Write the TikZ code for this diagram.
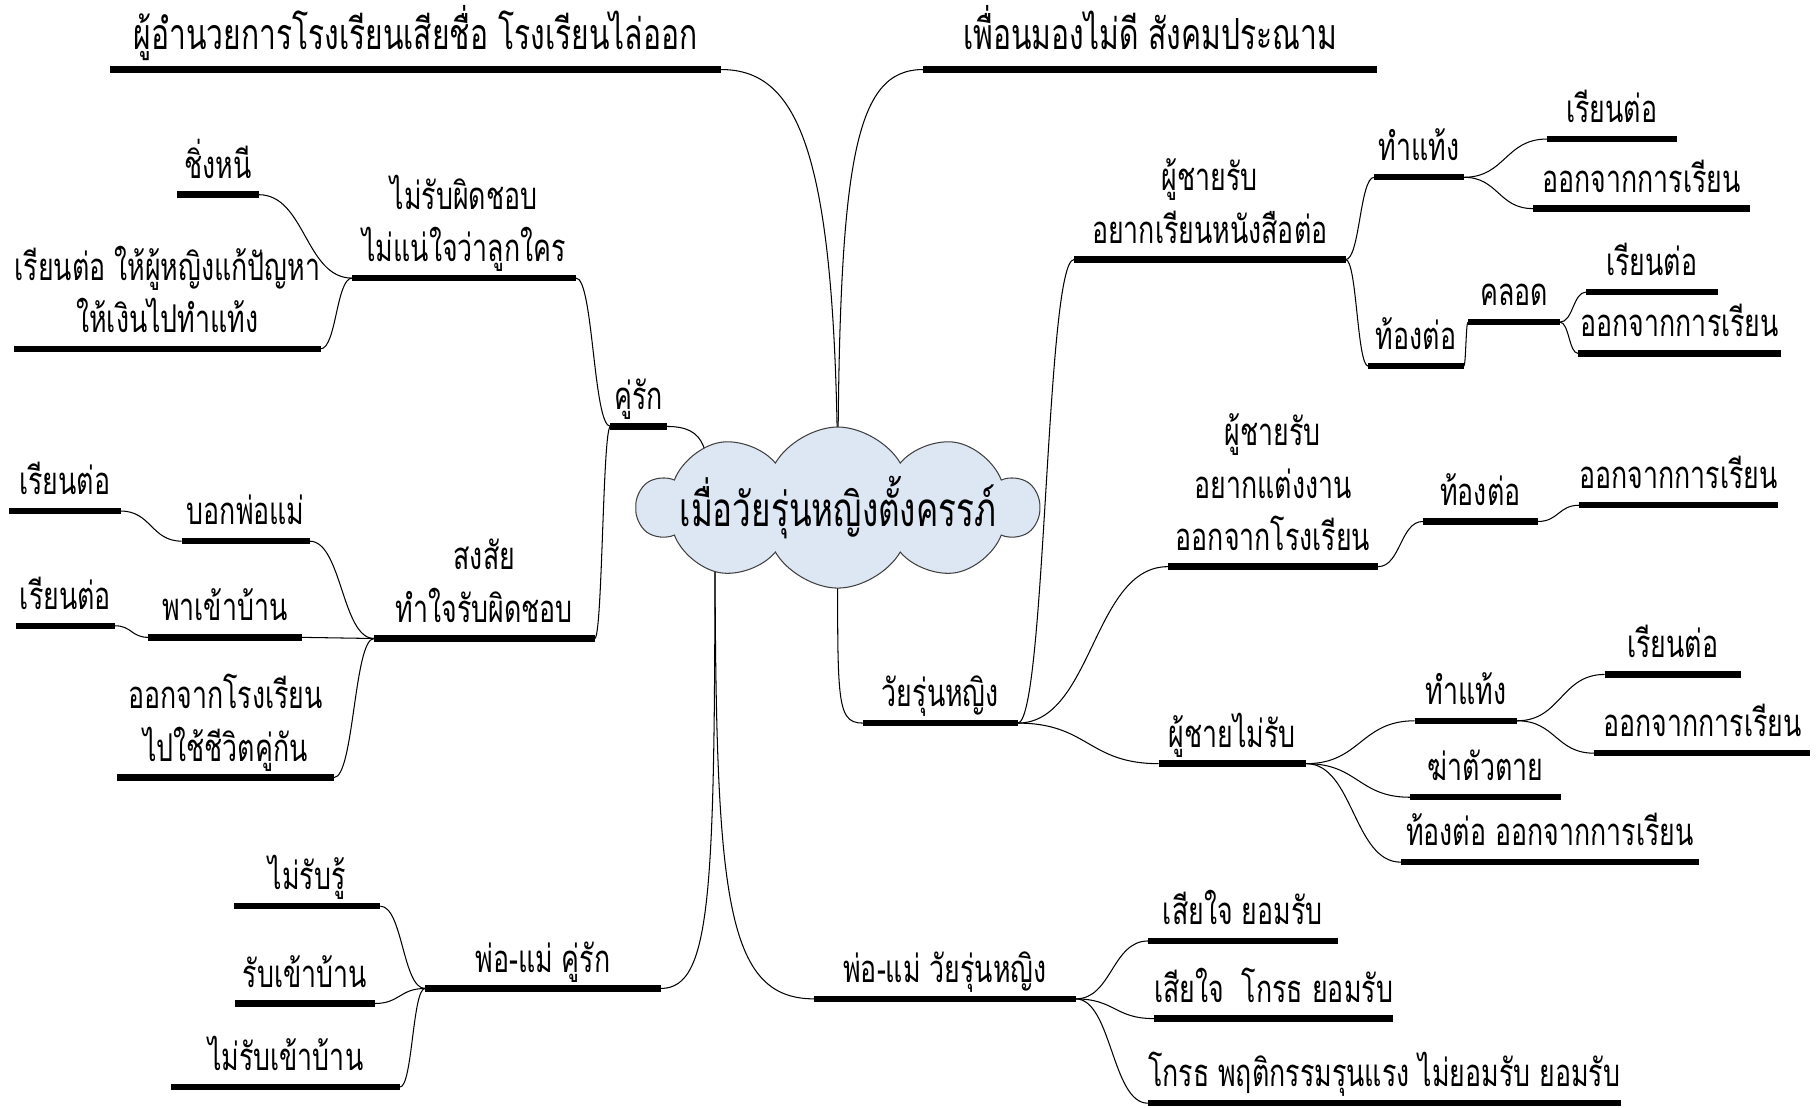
\documentclass[tikz,border=0pt]{standalone}
\usepackage{fontspec}
\newfontfamily\thaifont[Script=Thai,FakeStretch=0.7]{Loma}
\usetikzlibrary{shapes.symbols,calc,backgrounds}
\definecolor{cloudblue}{RGB}{221,230,243}

\begin{document}
\begin{tikzpicture}[x=1pt,y=-1pt,font=\thaifont\fontsize{33}{45}\selectfont]
    \useasboundingbox (0,0) rectangle (1568,956);
    \tikzstyle{bar} = [line width=5.5pt, black]
    \tikzstyle{topic} = [anchor=south, inner xsep=0pt, inner ysep=14pt, text depth=0pt, align=center,
        append after command={\pgfextra{\let\barnode\tikzlastnode \draw[bar] (\barnode.south west) -- (\barnode.south east);}}]
    \tikzstyle{headline} = [topic, inner ysep=17pt, font=\thaifont\fontsize{37}{45}\selectfont]
    \tikzstyle{link} = [line width=0.9pt, to path={.. controls ($(\tikztostart)!.5!(\tikztostart-|\tikztotarget)$) and ($(\tikztotarget)!.5!(\tikztotarget-|\tikztostart)$) .. (\tikztotarget)}]
    \tikzstyle{idea} = [cloud, cloud puffs=10, cloud puff arc=120, aspect=2.5, minimum width=346pt, minimum height=139pt,
        draw=black!75, line width=0.9pt, fill=cloudblue]

    \node (root) [idea, label={center:{\fontsize{41}{50}\selectfont เมื่อวัยรุ่นหญิงตั้งครรภ์}}] at (723,438) {};
    \coordinate (rootdown) at ([xshift=-106pt]root.center);
    \coordinate (rootkr) at ([xshift=-111pt]root.center);

    % top
    \node (t1) [headline, minimum width=527pt] at (358.5,60) {ผู้อำนวยการโรงเรียนเสียชื่อ โรงเรียนไล่ออก};
    \node (t2) [headline, minimum width=391pt] at (992.5,60) {เพื่อนมองไม่ดี สังคมประณาม};

    % left: couple
    \node (kr) [topic, minimum width=48pt] at (551,368) {คู่รัก};
    \node (kr1) [topic, minimum width=193pt] at (400.5,240) {ไม่รับผิดชอบ\\ไม่แน่ใจว่าลูกใคร};
    \node (kr11) [topic, minimum width=70pt] at (188,168) {ชิ่งหนี};
    \node (kr12) [topic, minimum width=257pt] at (144.5,301) {เรียนต่อ ให้ผู้หญิงแก้ปัญหา\\ให้เงินไปทำแท้ง};
    \node (kr2) [topic, minimum width=190pt] at (418,551) {สงสัย\\ทำใจรับผิดชอบ};
    \node (kr21) [topic, minimum width=110pt] at (212,467) {บอกพ่อแม่};
    \node (kr211) [topic, minimum width=96pt] at (56,441) {เรียนต่อ};
    \node (kr22) [topic, minimum width=132pt] at (194,550) {พาเข้าบ้าน};
    \node (kr221) [topic, minimum width=85pt] at (56.5,540) {เรียนต่อ};
    \node (kr23) [topic, minimum width=187pt] at (194.5,671) {ออกจากโรงเรียน\\ไปใช้ชีวิตคู่กัน};

    % bottom: parents
    \node (pk) [topic, minimum width=203pt] at (468.5,853) {พ่อ-แม่ คู่รัก};
    \node (pk1) [topic, minimum width=126pt] at (265,782) {ไม่รับรู้};
    \node (pk2) [topic, minimum width=120pt] at (263,866) {รับเข้าบ้าน};
    \node (pk3) [topic, minimum width=197pt] at (246.5,938) {ไม่รับเข้าบ้าน};
    \node (pw) [topic, minimum width=225pt] at (815.5,862) {พ่อ-แม่ วัยรุ่นหญิง};
    \node (pw1) [topic, minimum width=163pt] at (1072.5,812) {เสียใจ ยอมรับ};
    \node (pw2) [topic, minimum width=192pt] at (1099,879) {เสียใจ~ โกรธ ยอมรับ};
    \node (pw3) [topic, minimum width=399pt] at (1194.5,952) {โกรธ พฤติกรรมรุนแรง ไม่ยอมรับ ยอมรับ};

    % right: girl
    \node (w) [topic, minimum width=133pt] at (811.5,624) {วัยรุ่นหญิง};
    \node (w1) [topic, minimum width=234pt] at (1044,224) {ผู้ชายรับ\\อยากเรียนหนังสือต่อ};
    \node (w11) [topic, minimum width=77pt] at (1224.5,153) {ทำแท้ง};
    \node (w111) [topic, minimum width=112pt] at (1391,120) {เรียนต่อ};
    \node (w112) [topic, minimum width=187pt] at (1416.5,180) {ออกจากการเรียน};
    \node (w12) [topic, minimum width=82pt] at (1222,316) {ท้องต่อ};
    \node (w121) [topic, minimum width=79pt] at (1306.5,278) {คลอด};
    \node (w1211) [topic, minimum width=113pt] at (1425.5,252) {เรียนต่อ};
    \node (w1212) [topic, minimum width=175pt] at (1449.5,305) {ออกจากการเรียน};
    \node (w2) [topic, minimum width=181pt] at (1098.5,489) {ผู้ชายรับ\\อยากแต่งงาน\\ออกจากโรงเรียน};
    \node (w21) [topic, minimum width=99pt] at (1277.5,450) {ท้องต่อ};
    \node (w211) [topic, minimum width=167pt] at (1448.5,436) {ออกจากการเรียน};
    \node (w3) [topic, minimum width=127pt] at (1063.5,659) {ผู้ชายไม่รับ};
    \node (w31) [topic, minimum width=88pt] at (1265,622) {ทำแท้ง};
    \node (w311) [topic, minimum width=117pt] at (1443.5,582) {เรียนต่อ};
    \node (w312) [topic, minimum width=186pt] at (1469,650) {ออกจากการเรียน};
    \node (w32) [topic, minimum width=130pt] at (1282,688) {ฆ่าตัวตาย};
    \node (w33) [topic, minimum width=257pt] at (1337.5,744) {ท้องต่อ ออกจากการเรียน};

    \begin{scope}[on background layer]
    \draw [line width=0.9pt] (root.center) .. controls +(0,-300) and +(70,0) .. (t1.south east);
    \draw [line width=0.9pt] (root.center) .. controls +(0,-300) and +(-60,0) .. (t2.south west);
    \draw [line width=0.9pt] (root.center) .. controls +(0,165) and +(-25,0) .. (w.south west);
    \draw [line width=0.9pt] (rootdown) .. controls +(0,330) and +(45,0) .. (pk.south east);
    \draw [line width=0.9pt] (rootdown) .. controls +(0,330) and +(-80,0) .. (pw.south west);
    \draw [line width=0.9pt] (kr.south east) .. controls +(35,0) and +(0,-50) .. (rootkr);
    \end{scope}

    \draw [link] (kr1.south east) to (kr.south west);
    \draw [link] (kr2.south east) to (kr.south west);
    \draw [link] (kr11.south east) to (kr1.south west);
    \draw [link] (kr12.south east) to (kr1.south west);
    \draw [link] (kr21.south east) to (kr2.south west);
    \draw [link] (kr22.south east) to (kr2.south west);
    \draw [link] (kr23.south east) to (kr2.south west);
    \draw [link] (kr211.south east) to (kr21.south west);
    \draw [link] (kr221.south east) to (kr22.south west);

    \draw [link] (pk1.south east) to (pk.south west);
    \draw [link] (pk2.south east) to (pk.south west);
    \draw [link] (pk3.south east) to (pk.south west);
    \draw [link] (pw.south east) to (pw1.south west);
    \draw [link] (pw.south east) to (pw2.south west);
    \draw [link] (pw.south east) to (pw3.south west);

    \draw [link] (w.south east) to (w1.south west);
    \draw [link] (w.south east) to (w2.south west);
    \draw [link] (w.south east) to (w3.south west);
    \draw [link] (w1.south east) to (w11.south west);
    \draw [link] (w1.south east) to (w12.south west);
    \draw [link] (w11.south east) to (w111.south west);
    \draw [link] (w11.south east) to (w112.south west);
    \draw [link] (w12.south east) to (w121.south west);
    \draw [link] (w121.south east) to (w1211.south west);
    \draw [link] (w121.south east) to (w1212.south west);
    \draw [link] (w2.south east) to (w21.south west);
    \draw [link] (w21.south east) to (w211.south west);
    \draw [link] (w3.south east) to (w31.south west);
    \draw [link] (w3.south east) to (w32.south west);
    \draw [link] (w3.south east) to (w33.south west);
    \draw [link] (w31.south east) to (w311.south west);
    \draw [link] (w31.south east) to (w312.south west);

\end{tikzpicture}
\end{document}
